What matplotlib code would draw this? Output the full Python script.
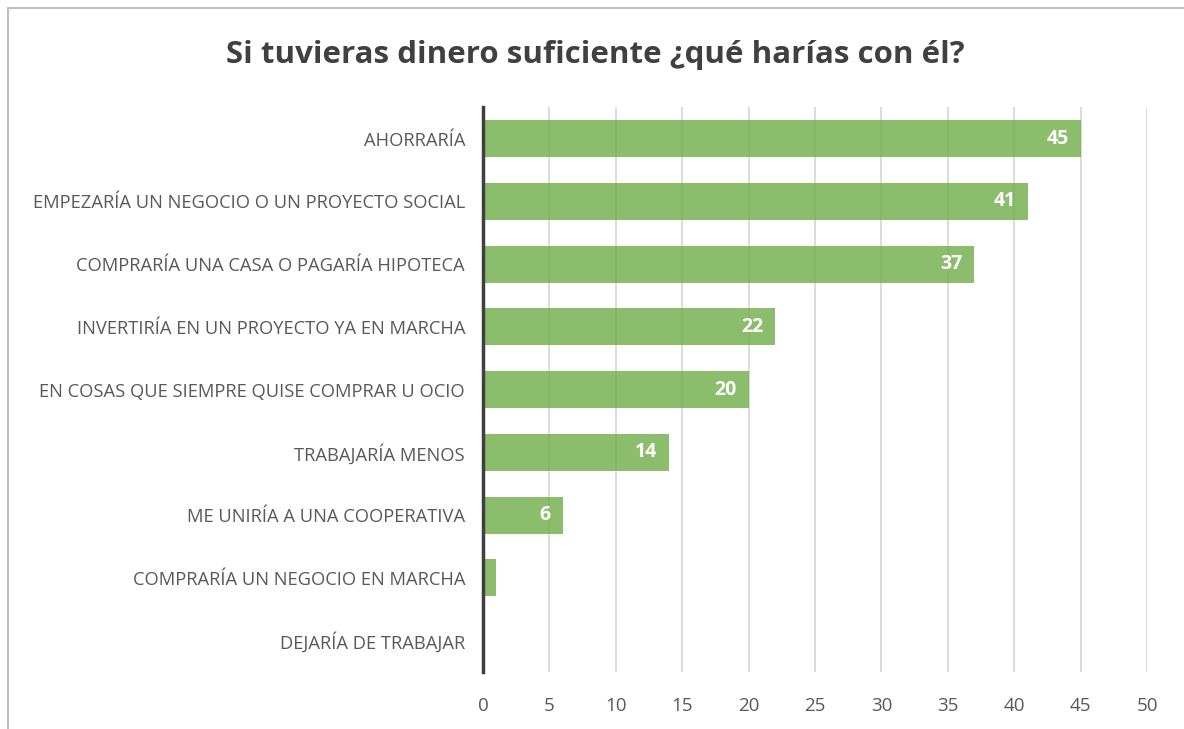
import matplotlib.pyplot as plt
from matplotlib.patches import Rectangle

# data (top to bottom)
categories = [
    "AHORRARÍA",
    "EMPEZARÍA UN NEGOCIO O UN PROYECTO SOCIAL",
    "COMPRARÍA UNA CASA O PAGARÍA HIPOTECA",
    "INVERTIRÍA EN UN PROYECTO YA EN MARCHA",
    "EN COSAS QUE SIEMPRE QUISE COMPRAR U OCIO",
    "TRABAJARÍA MENOS",
    "ME UNIRÍA A UNA COOPERATIVA",
    "COMPRARÍA UN NEGOCIO EN MARCHA",
    "DEJARÍA DE TRABAJAR",
]
values = [45, 41, 37, 22, 20, 14, 6, 1, 0]
xticks = [0, 5, 10, 15, 20, 25, 30, 35, 40, 45, 50]

plt.rcParams['font.family'] = ['Open Sans', 'DejaVu Sans']

fig = plt.figure(figsize=(11.84, 7.29), dpi=100)
ax = fig.add_axes([0.408, 0.078, 0.5608, 0.775])

# outer chart border
fig.patches.append(Rectangle((8 / 1184, -0.01), 1.1, 1 - 8 / 729 + 0.01,
                             transform=fig.transFigure, fill=False,
                             edgecolor='#BFBFBF', linewidth=1.5))

y = list(range(len(categories)))
ax.barh(y, values, height=0.59, color='#70AD47', alpha=0.8, zorder=3)

for yi, v in zip(y, values):
    if v >= 5:
        ax.text(v - 0.9, yi, str(v), ha='right', va='center', color='white',
                fontsize=14, fontweight='bold', zorder=4)

ax.set_xlim(0, 50)
ax.set_ylim(len(categories) - 0.5, -0.5)
ax.set_xticks(xticks)
ax.set_yticks(y)
ax.set_yticklabels(categories)
ax.tick_params(axis='y', length=0, pad=13, labelsize=13.2, labelcolor='#595959')
ax.tick_params(axis='x', length=0, pad=18, labelsize=13.5, labelcolor='#595959')
ax.grid(axis='x', color='#D9D9D9', linewidth=1.3, zorder=0)
for s in ['top', 'right', 'bottom']:
    ax.spines[s].set_visible(False)
ax.spines['left'].set_color('#404040')
ax.spines['left'].set_linewidth(2.5)
ax.spines['left'].set_zorder(5)

fig.text(0.503, 0.925, "Si tuvieras dinero suficiente ¿qué harías con él?",
         ha='center', va='center', fontsize=22.5, fontweight='bold', color='#404040')

fig.savefig('out.png', dpi=100)
